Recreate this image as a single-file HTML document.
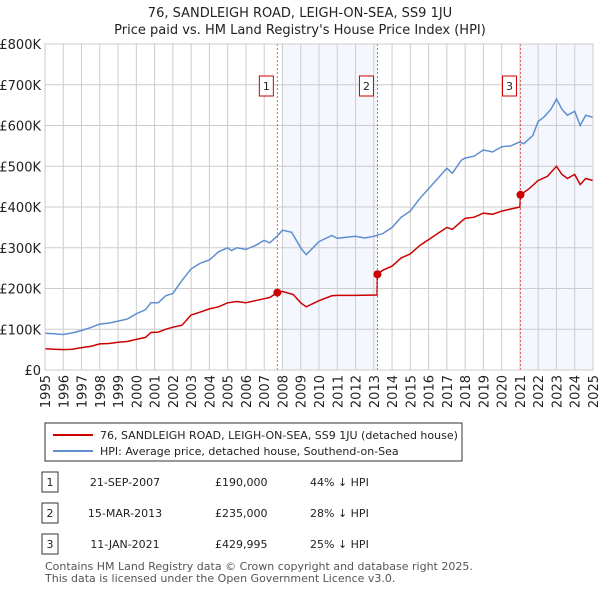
<!DOCTYPE html>
<html><head><meta charset="utf-8"><style>
body{margin:0;background:#fff;font-family:"Liberation Sans","DejaVu Sans",sans-serif;}
svg text{font-family:"DejaVu Sans","Liberation Sans",sans-serif;}
</style></head><body>
<svg width="600" height="590" xmlns="http://www.w3.org/2000/svg" id="c">
<text x="300" y="17" text-anchor="middle" font-size="13" fill="#222">76, SANDLEIGH ROAD, LEIGH-ON-SEA, SS9 1JU</text>
<text x="300" y="34" text-anchor="middle" font-size="13" fill="#222">Price paid vs. HM Land Registry's House Price Index (HPI)</text>
<g id="plot"></g>
<g>
<rect x="45" y="423" width="417" height="38" fill="#fff" stroke="#333" stroke-width="1"/>
<line x1="53" y1="435" x2="93" y2="435" stroke="#cc0000" stroke-width="2"/>
<text x="100" y="439" font-size="11" fill="#222">76, SANDLEIGH ROAD, LEIGH-ON-SEA, SS9 1JU (detached house)</text>
<line x1="53" y1="451" x2="93" y2="451" stroke="#5f8fd0" stroke-width="2"/>
<text x="100" y="455" font-size="11" fill="#222">HPI: Average price, detached house, Southend-on-Sea</text>
</g>
<g id="tbl" font-size="11" fill="#222"></g>
<text x="45" y="570" font-size="11" fill="#555">Contains HM Land Registry data © Crown copyright and database right 2025.</text>
<text x="45" y="582" font-size="11" fill="#555">This data is licensed under the Open Government Licence v3.0.</text>
</svg>
<script>
const hpiYears=[1995,1995.5,1996,1996.5,1997,1997.5,1998,1998.5,1999,1999.5,2000,2000.5,2000.8,2001.2,2001.6,2002,2002.5,2003,2003.5,2004,2004.5,2005,2005.2,2005.5,2006,2006.5,2007,2007.3,2007.7,2008,2008.5,2009,2009.3,2010,2010.7,2011,2011.5,2012,2012.5,2013,2013.5,2014,2014.5,2015,2015.5,2016,2016.5,2017,2017.3,2017.8,2018,2018.5,2019,2019.5,2020,2020.5,2021,2021.2,2021.7,2022,2022.3,2022.7,2023,2023.3,2023.6,2024,2024.3,2024.6,2025];
const hpiValues=[90,89,87,91,97,104,113,115,120,125,138,148,165,165,182,188,220,248,262,270,290,300,293,300,296,305,318,312,328,343,338,300,283,315,330,323,326,328,324,328,335,350,375,390,420,445,470,495,483,515,520,525,540,535,548,550,560,555,575,610,620,640,665,640,625,635,600,625,620];
const ppYears=[1995,1995.5,1996,1996.5,1997,1997.5,1998,1998.5,1999,1999.5,2000,2000.5,2000.8,2001.2,2001.6,2002,2002.5,2003,2003.5,2004,2004.5,2005,2005.5,2006,2006.5,2007,2007.3,2007.72,2008,2008.6,2009,2009.3,2010,2010.7,2011,2012,2013.18,2013.19,2013.5,2014,2014.5,2015,2015.5,2016,2016.5,2017,2017.3,2017.8,2018,2018.5,2019,2019.5,2020,2020.5,2021.0,2021.03,2021.5,2022,2022.5,2023,2023.3,2023.6,2024,2024.3,2024.6,2025];
const ppValues=[52,51,50,51,55,58,64,65,68,70,75,80,92,93,100,105,110,135,142,150,155,165,168,165,170,175,178,190,193,185,165,155,170,182,183,183,184,235,245,255,275,285,305,320,335,350,345,365,372,375,385,382,390,395,400,430,445,465,475,500,480,470,480,455,470,465];
const saleYears=[2007.72,2013.2,2021.03];
const saleValues=[190,235,429.995];
const saleLabels=["1","2","3"];
const saleDates=["21-SEP-2007","15-MAR-2013","11-JAN-2021"];
const salePrices=["£190,000","£235,000","£429,995"];
const saleDiffs=["44% ↓ HPI","28% ↓ HPI","25% ↓ HPI"];
const yTicks=[0,100,200,300,400,500,600,700,800];
const yTickLabels=["£0","£100K","£200K","£300K","£400K","£500K","£600K","£700K","£800K"];
const xTicks=[1995,1996,1997,1998,1999,2000,2001,2002,2003,2004,2005,2006,2007,2008,2009,2010,2011,2012,2013,2014,2015,2016,2017,2018,2019,2020,2021,2022,2023,2024,2025];

const NS="http://www.w3.org/2000/svg";
const X0=45,X1=593,Y0=370,Y1=44;
const xs=y=>X0+(y-1995)/30*(X1-X0);
const ys=v=>Y0-v/800*(Y0-Y1);
const plot=document.getElementById('plot');
function mk(t,a,p){const e=document.createElementNS(NS,t);for(const k in a)e.setAttribute(k,a[k]);(p||plot).appendChild(e);return e;}
let s1=mk('rect',{x:xs(2008),y:Y1,width:xs(2013.2)-xs(2008),height:Y0-Y1,fill:'#f4f7fd'});


let s2=mk('rect',{x:xs(2021.03),y:Y1,width:X1-xs(2021.03),height:Y0-Y1,fill:'#f4f7fd'});


yTicks.forEach((v,i)=>{
 let l=mk('line',{x1:X0,x2:X1,y1:ys(v),y2:ys(v),stroke:'#ccc','stroke-width':1});
 
 
 let t=mk('text',{x:X0-4,y:ys(v)+5,'text-anchor':'end','font-size':13,fill:'#222'});
 t.textContent=yTickLabels[i];
 
 
});
xTicks.forEach(y=>{
 let l=mk('line',{x1:xs(y),x2:xs(y),y1:Y1,y2:Y0,stroke:'#ccc','stroke-width':1});
 
 
 let t=mk('text',{x:0,y:0,'text-anchor':'end','font-size':13,fill:'#222',transform:`translate(${xs(y)+5},${Y0+5}) rotate(-90)`});
 t.textContent=y;
 
 
});
function line(xa,va,col,name){
 const d=xa.map((x,i)=>(i?'L':'M')+xs(x).toFixed(1)+','+ys(va[i]).toFixed(1)).join('');
 let p=mk('path',{d:d,fill:'none',stroke:col,'stroke-width':1.5});
 
 
}
line(hpiYears,hpiValues,'#5f8fd0','hpi-line');
line(ppYears,ppValues,'#cc0000','price-paid-line');
saleYears.forEach((y,i)=>{
 let d=mk('line',{x1:xs(y),x2:xs(y),y1:Y1,y2:Y0,stroke:'#e06060','stroke-width':1,'stroke-dasharray':'2,2'});
 
 
 let c=mk('circle',{cx:xs(y),cy:ys(saleValues[i]),r:4,fill:'#cc0000'});
 
 
 let b=mk('rect',{x:xs(y)-18,y:76,width:14,height:20,fill:'#fff',stroke:'#cc0000'});
 
 
 let t=mk('text',{x:xs(y)-11,y:90,'text-anchor':'middle','font-size':11,fill:'#222'});
 t.textContent=saleLabels[i];
 
 
});
let bd=mk('rect',{x:X0,y:Y1,width:X1-X0,height:Y0-Y1,fill:'none',stroke:'#ccc'});


const tbl=document.getElementById('tbl');
saleLabels.forEach((n,i)=>{
 const y=482+i*31;
 let r=mk('rect',{x:42,y:y-10,width:16,height:20,fill:'#fff',stroke:'#333'},tbl);
 
 
 [[50,n,'middle'],[125,saleDates[i],'middle'],[215,salePrices[i],'start'],[310,saleDiffs[i],'start']].forEach(([x,s,a])=>{
  let t=mk('text',{x:x,y:y+4,'text-anchor':a},tbl);
  t.textContent=s;
  
  
 });
});
</script>
</body></html>
